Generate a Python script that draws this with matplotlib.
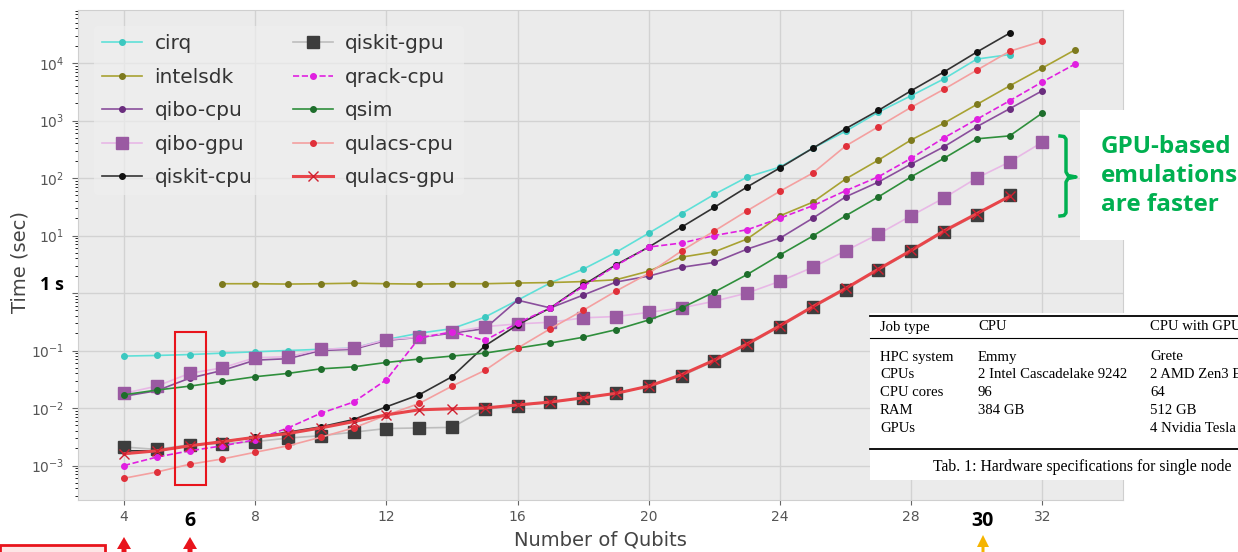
import numpy as np
import matplotlib.pyplot as plt
from matplotlib.patches import Rectangle, Polygon
from matplotlib.lines import Line2D
from matplotlib.ticker import LogLocator, NullFormatter, FixedLocator

W, H = 1238, 552

# qubit ranges
q4_31 = list(range(4, 32))
q4_32 = list(range(4, 33))
q4_33 = list(range(4, 34))
q7_33 = list(range(7, 34))

# runtimes in seconds
cirq = [0.08, 0.082, 0.085, 0.09, 0.095, 0.1, 0.105, 0.11, 0.155, 0.2, 0.24, 0.38, 0.75, 1.5,
        2.6, 5.1, 11, 24, 52, 104, 155, 330, 650, 1400, 2700, 5300, 11700, 14000]
intelsdk = [1.45, 1.45, 1.43, 1.45, 1.48, 1.45, 1.43, 1.45, 1.45, 1.49, 1.52, 1.58, 1.7, 2.4,
            4.2, 5.2, 8.7, 22, 38, 96, 205, 460, 900, 1900, 4000, 8200, 17000]
qibo_cpu = [0.016, 0.02, 0.033, 0.045, 0.068, 0.072, 0.1, 0.105, 0.15, 0.17, 0.2, 0.24, 0.75,
            0.55, 0.92, 1.55, 1.97, 2.8, 3.4, 5.8, 9, 20, 47, 85, 175, 350, 780, 1600, 3300]
qibo_gpu = [0.018, 0.024, 0.04, 0.05, 0.075, 0.078, 0.105, 0.11, 0.155, 0.17, 0.21, 0.26, 0.29,
            0.31, 0.37, 0.39, 0.46, 0.55, 0.72, 1.0, 1.6, 2.8, 5.4, 10.6, 22, 45, 100, 190, 420]
qiskit_cpu = [0.0018, 0.0018, 0.0022, 0.0026, 0.0031, 0.0038, 0.0047, 0.0063, 0.0105, 0.017,
              0.035, 0.12, 0.28, 0.55, 1.37, 3.1, 6.3, 14, 31, 70, 150, 330, 720, 1500, 3300,
              7000, 15500, 33000]
qiskit_gpu = [0.0021, 0.0019, 0.0023, 0.0024, 0.0026, 0.003, 0.0033, 0.0038, 0.0044, 0.0045,
              0.0046, 0.0095, 0.011, 0.0125, 0.015, 0.018, 0.024, 0.036, 0.066, 0.125, 0.26,
              0.56, 1.15, 2.5, 5.3, 11.5, 23, 50]
qrack_cpu = [0.001, 0.0014, 0.0018, 0.0022, 0.0028, 0.0045, 0.0081, 0.0127, 0.031, 0.165, 0.21,
             0.15, 0.3, 0.55, 1.3, 3.0, 6.3, 7.4, 10, 12.6, 20, 33, 60, 105, 220, 500, 1050,
             2200, 4700, 9600]
qsim = [0.017, 0.0205, 0.024, 0.029, 0.035, 0.04, 0.048, 0.052, 0.062, 0.071, 0.08, 0.09, 0.11,
        0.135, 0.17, 0.23, 0.34, 0.55, 1.04, 2.1, 4.6, 9.8, 22, 47, 105, 220, 480, 540, 1350]
qulacs_cpu = [0.0006, 0.00077, 0.00105, 0.0013, 0.0017, 0.0022, 0.0031, 0.0045, 0.0075, 0.012,
              0.024, 0.045, 0.11, 0.24, 0.5, 1.08, 2.2, 5.4, 12, 27, 59, 122, 360, 780, 1700,
              3500, 7500, 16000, 24000]
qulacs_gpu = [0.0016, 0.0018, 0.0022, 0.0026, 0.0031, 0.0036, 0.0045, 0.0058, 0.0076, 0.0093,
              0.0097, 0.01, 0.0113, 0.0127, 0.015, 0.018, 0.024, 0.038, 0.068, 0.13, 0.27, 0.58,
              1.2, 2.6, 5.5, 12, 24, 48]

x_ticks = [4, 8, 12, 16, 20, 24, 28, 32]

# table overlay
tab_header = ["Job type", "CPU", "CPU with GPU"]
tab_rows = [["HPC system", "Emmy", "Grete"],
            ["CPUs", "2 Intel Cascadelake 9242", "2 AMD Zen3 EPYC 7513"],
            ["CPU cores", "96", "64"],
            ["RAM", "384 GB", "512 GB"],
            ["GPUs", "", "4 Nvidia Tesla A100"]]
tab_caption = "Tab. 1: Hardware specifications for single node"


def fx(px):
    return px / W


def fy(py):
    return 1 - py / H


fig = plt.figure(figsize=(W / 100, H / 100), dpi=100)
ax = fig.add_axes([fx(78), fy(500), (1123 - 78) / W, (500 - 10) / H])
ax.set_facecolor('#ebebeb')

def pl(x, y, c, label, lc=None, ls='-', lw=1.2, marker='o', ms=4, mec=None, z=2):
    ax.plot(x, y, color=lc if lc else c, ls=ls, lw=lw, marker=marker, ms=ms,
            mfc=c, mec=mec if mec else c, label=label, zorder=z)

pl(q4_31, cirq, '#3cc8c0', 'cirq', lc='#5fe0d8')
pl(q7_33, intelsdk, '#7d7a1e', 'intelsdk', lc='#a8a232')
pl(q4_32, qibo_cpu, '#6a2d7e', 'qibo-cpu', lc='#8a4f9c')
pl(q4_32, qibo_gpu, '#9a5aa2', 'qibo-gpu', lc='#e8b8e6', marker='s', ms=8)
pl(q4_31, qiskit_cpu, '#111111', 'qiskit-cpu', lc='#333333')
pl(q4_31, qiskit_gpu, '#3d3d3d', 'qiskit-gpu', lc='#bdbdbd', marker='s', ms=8)
pl(q4_33, qrack_cpu, '#e020e0', 'qrack-cpu', ls='--')
pl(q4_32, qsim, '#1e6e2c', 'qsim', lc='#2f8f3c')
pl(q4_32, qulacs_cpu, '#e0303a', 'qulacs-cpu', lc='#f4a0a0')
pl(q4_31, qulacs_gpu, '#e53a3a', 'qulacs-gpu', lc='#e8454a', lw=2.2, marker='x', ms=7,
   mec='#d02030')

ax.set_yscale('log')
ax.set_xlim(4 + (78 - 124) / 32.8, 4 + (1123 - 124) / 32.8)
ax.set_ylim(10 ** ((293 - 500) / 57.5), 10 ** ((293 - 10) / 57.5))
ax.set_xticks(x_ticks)
ax.set_xticklabels([str(t) for t in x_ticks])
decades = [1e-3, 1e-2, 1e-1, 1, 10, 100, 1e3, 1e4]
ax.yaxis.set_major_locator(FixedLocator(decades))
ax.set_yticklabels([r'$10^{-3}$', r'$10^{-2}$', r'$10^{-1}$', '', r'$10^{1}$', r'$10^{2}$',
                    r'$10^{3}$', r'$10^{4}$'])
ax.yaxis.set_minor_locator(LogLocator(base=10, subs=np.arange(2, 10), numticks=20))
ax.yaxis.set_minor_formatter(NullFormatter())
ax.tick_params(axis='both', labelsize=10, colors='#666666', labelcolor='#555555')
ax.tick_params(axis='y', which='major', length=4, pad=6)
ax.tick_params(axis='y', which='minor', length=2)
ax.grid(True, which='major', color='#d2d2d2', lw=1)
ax.set_axisbelow(True)
for s in ax.spines.values():
    s.set_color('#cfcfcf')

ax.set_xlabel('Number of Qubits', fontsize=14, color='#444444')
ax.set_ylabel('Time (sec)', fontsize=14, color='#444444')
ax.xaxis.set_label_coords(0.5, -0.062)
ax.yaxis.set_label_coords(-0.046, 0.486)

leg = ax.legend(ncol=2, loc='upper left', bbox_to_anchor=(0.0, 1.0), fontsize=14.5,
                labelspacing=0.72, handlelength=2.0, handletextpad=0.6, columnspacing=2.0,
                frameon=True, facecolor='#eeeeee', edgecolor='none', framealpha=0.7,
                borderaxespad=0.8)
for t in leg.get_texts():
    t.set_color('#333333')

# ---- annotations on top of the figure ----
bold = ['Open Sans', 'DejaVu Sans']

fig.add_artist(Rectangle((fx(175), fy(485)), 31 / W, 153 / H, transform=fig.transFigure,
                         fill=False, ec='#e8141c', lw=1.5, zorder=5))
fig.text(fx(52), fy(285), '1 s', fontsize=13, fontweight='bold', family=bold,
         ha='center', va='center', color='black', zorder=6)
fig.text(fx(190), fy(521), '6', fontsize=14, fontweight='bold', family=bold,
         ha='center', va='center', color='black', zorder=6)
fig.text(fx(983), fy(521), '30', fontsize=14, fontweight='bold', family=bold,
         ha='center', va='center', color='black', zorder=6)


def up_arrow(x, tip, color, hw=7, sw=2.5):
    pts = [(x, tip), (x - hw, tip + 12), (x - sw, tip + 12), (x - sw, H + 5),
           (x + sw, H + 5), (x + sw, tip + 12), (x + hw, tip + 12)]
    fig.add_artist(Polygon([(fx(a), fy(b)) for a, b in pts], closed=True,
                           transform=fig.transFigure, fc=color, ec='none', zorder=6))


up_arrow(124, 537, '#e8141c')
up_arrow(190, 537, '#e8141c')
up_arrow(983, 535, '#f5b400', hw=6, sw=1.5)

fig.add_artist(Rectangle((fx(0), fy(565)), 105 / W, 20 / H, transform=fig.transFigure,
                         fc='#fde6e6', ec='#e8141c', lw=2, zorder=5))

# GPU note
fig.add_artist(Rectangle((fx(1080), fy(240)), (W - 1080) / W, 130 / H,
                         transform=fig.transFigure, fc='white', ec='none', zorder=5))
brace = [(1060, 136), (1064, 136.5), (1066, 139), (1066, 172), (1068, 175.5), (1076, 177),
         (1068, 178.5), (1066, 182), (1066, 213), (1064, 215.5), (1060, 216)]
fig.add_artist(Line2D([fx(a) for a, b in brace], [fy(b) for a, b in brace],
                      transform=fig.transFigure, color='#00b050', lw=2.5, zorder=6))
fig.text(fx(1101), fy(176), 'GPU-based\nemulations\nare faster', fontsize=17.5,
         fontweight='bold', family=bold, color='#00b050', ha='left', va='center',
         linespacing=1.3, zorder=6)

# hardware table (its right part is cut by the picture edge, as in the screenshot)
fig.add_artist(Rectangle((fx(870), fy(480)), (W - 870) / W, 167 / H,
                         transform=fig.transFigure, fc='white', ec='none', zorder=5))
for yy, lw in [(316, 1.3), (338, 0.8), (449, 1.3)]:
    fig.add_artist(Line2D([fx(870), fx(W + 5)], [fy(yy), fy(yy)], transform=fig.transFigure,
                          color='black', lw=lw, zorder=6))
serif = ['Liberation Serif', 'DejaVu Serif']
col_x = [880, 978, 1150]
for cx, txt in zip(col_x, tab_header):
    fig.text(fx(cx), fy(327), txt, fontsize=10.6, family=serif, ha='left', va='center',
             zorder=7)
for i, row in enumerate(tab_rows):
    for cx, txt in zip(col_x, row):
        fig.text(fx(cx), fy(357 + 18 * i), txt, fontsize=10.6, family=serif, ha='left',
                 va='center', zorder=7)
fig.text(fx(1082), fy(467), tab_caption, fontsize=11.3, family=serif, ha='center',
         va='center', zorder=7)

fig.savefig('out.png', dpi=100)
